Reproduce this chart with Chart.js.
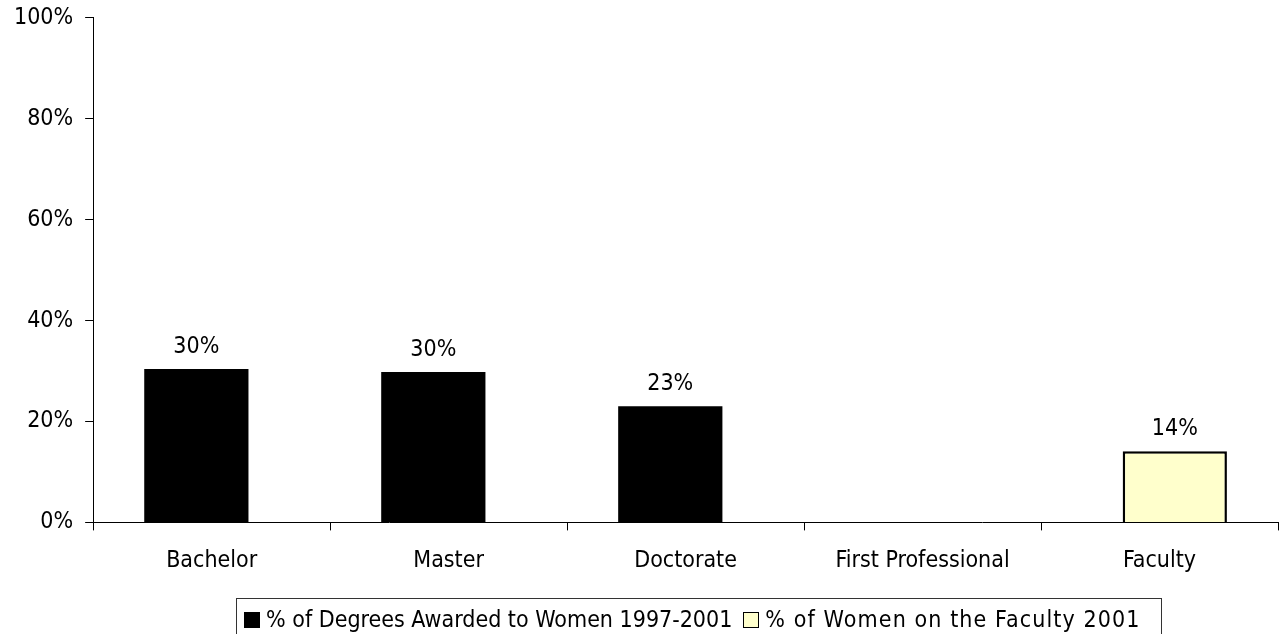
<!DOCTYPE html>
<html>
<head>
<meta charset="utf-8">
<script src="https://cdn.jsdelivr.net/npm/chart.js@4/dist/chart.umd.min.js"></script>
<style>
  body { margin: 0; background: #fff; overflow: hidden; }
  #wrap { position: relative; width: 1281px; height: 634px; }
  #legend {
    position: absolute; left: 236px; top: 598px; width: 926px; height: 45px;
    border: 1px solid #333; box-sizing: border-box;
    font-family: 'DejaVu Sans Condensed', 'Liberation Sans', sans-serif; font-size: 23px; color: #000;
    white-space: nowrap; padding-left: 7px; line-height: 1;
  }
  #legend .item { display: inline-block; margin-top: 9px; }
  #legend .sw { display: inline-block; width: 16px; height: 16px; box-sizing: border-box; margin-right: 6px; vertical-align: -1px; }
</style>
</head>
<body>
<div id="wrap">
  <canvas id="chart" width="1281" height="634"></canvas>
  <div id="legend"></div>
</div>
<script>
/* data */
const categories = ['Bachelor', 'Master', 'Doctorate', 'First Professional', 'Faculty'];
const degreesWomen = [30.4, 29.8, 23.0, null, null];
const facultyWomen = [null, null, null, null, 14.1];
const seriesNames = ['% of Degrees Awarded to Women 1997-2001', '% of Women on the Faculty 2001'];
const yTicks = [0, 20, 40, 60, 80, 100];

const FONT = "'DejaVu Sans Condensed', 'Liberation Sans', sans-serif";

// value labels above the bars
const valueLabels = {
    id: 'valueLabels',
    afterDatasetsDraw(chart) {
        const ctx = chart.ctx;
        ctx.save();
        ctx.font = '23px ' + FONT;
        ctx.fillStyle = '#000';
        ctx.textAlign = 'center';
        ctx.textBaseline = 'alphabetic';
        chart.data.datasets.forEach((ds, i) => {
            chart.getDatasetMeta(i).data.forEach((bar, j) => {
                const v = ds.data[j];
                if (v == null) return;
                ctx.fillText(Math.round(v) + '%', bar.x, bar.y - 16);
            });
        });
        ctx.restore();
    }
};

const ctx = document.getElementById('chart').getContext('2d');

new Chart(ctx, {
    type: 'bar',
    data: {
        labels: categories,
        datasets: [{
            label: seriesNames[0],
            data: degreesWomen,
            backgroundColor: '#000000',
            borderWidth: 0
        }, {
            label: seriesNames[1],
            data: facultyWomen,
            backgroundColor: '#FFFFCC',
            borderColor: '#000000',
            borderWidth: 2.5
        }]
    },
    options: {
        responsive: false,
        animation: false,
        categoryPercentage: 0.258,
        barPercentage: 3.41,
        layout: { padding: { left: 2, right: 3, top: 13, bottom: 42 } },
        plugins: {
            legend: { display: false },
            tooltip: { enabled: false }
        },
        scales: {
            x: {
                grid: { offset: true, drawOnChartArea: false, color: '#000', tickLength: 8 },
                border: { color: '#000', width: 1 },
                ticks: { color: '#000', padding: 17, font: { family: FONT, size: 23 } }
            },
            y: {
                min: 0,
                max: 100,
                afterBuildTicks: (scale) => { scale.ticks = yTicks.map(v => ({ value: v })); },
                grid: { drawOnChartArea: false, color: '#000', tickLength: 8 },
                border: { color: '#000', width: 1 },
                ticks: {
                    color: '#000', padding: 12,
                    font: { family: FONT, size: 23, lineHeight: 0.5 },
                    callback: (v) => v + '%'
                }
            }
        }
    },
    plugins: [valueLabels]
});

// legend as text, boxed like the original
const legendEl = document.getElementById('legend');
const swatches = [
    'background:#000;',
    'background:#FFFFCC;border:1px solid #000;'
];
const spacing = ['0px', '1.1px'];
legendEl.innerHTML = seriesNames.map((name, i) =>
    '<span class="item" style="margin-left:' + (i ? 11 : 0) + 'px;letter-spacing:' + spacing[i] + '"><span class="sw" style="' + swatches[i] + '"></span>' + name + '</span>'
).join('');
</script>
</body>
</html>
